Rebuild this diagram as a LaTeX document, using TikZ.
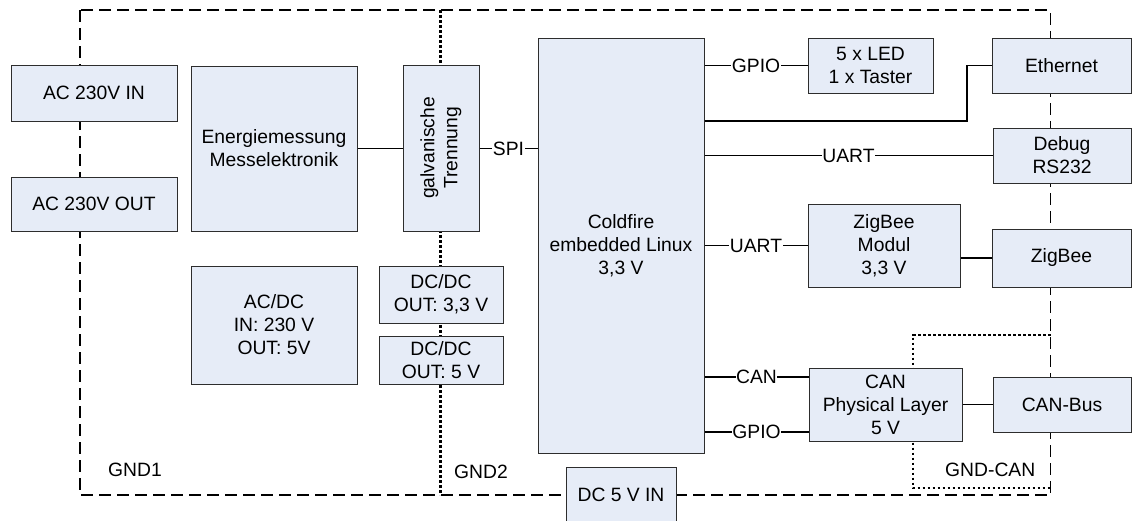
\documentclass[tikz,border=0pt]{standalone}
\usepackage{fontspec}
\setmainfont{Liberation Sans}
\definecolor{boxfill}{RGB}{230,236,247}
\definecolor{boxline}{RGB}{45,45,45}
\begin{document}
\begin{tikzpicture}[x=1pt,y=-1pt,
  font=\fontsize{19.3}{23}\selectfont,
  box/.style={draw=boxline, fill=boxfill, line width=1pt, align=center, inner sep=0pt},
  conn/.style={line width=1.1pt},
  lbl/.style={fill=white, inner sep=0.6pt},
  gndframe/.style={line width=1.8pt, dash pattern=on 12pt off 6pt},
  gnddots/.style={line width=2.6pt, dash pattern=on 2.6pt off 2.4pt},
  gndtext/.style={anchor=west, inner sep=0pt}]
\useasboundingbox[fill=white] (0,0) rectangle (1134,520);
% ground regions
\draw[gndframe] (80,10) rectangle (1050.5,495);
\draw[gnddots] (440.7,10) -- (440.7,495);
\draw[gnddots] (1050.5,335) -| (913,488) -- (1050.5,488);
\node[gndtext] (gnd1) at (108,470) {GND1};
\node[gndtext] (gnd2) at (454,472) {GND2};
\node[gndtext] (gndcan) at (945,470) {GND-CAN};
% blocks
\node[box, minimum width=166pt, minimum height=56pt] (acin) at (94,93) {AC 230V IN};
\node[box, minimum width=166pt, minimum height=54pt] (acout) at (94,204) {AC 230V OUT};
\node[box, minimum width=166pt, minimum height=165pt] (energie) at (274,148.5) {Energiemessung\\Messelektronik};
\node[box, minimum width=76pt, minimum height=166pt] (galv) at (441,148) {};
\node[rotate=90, align=center, inner sep=0pt] (galvtext) at (galv.center) {galvanische\\Trennung};
\node[box, minimum width=166pt, minimum height=118pt] (acdc) at (274,325) {AC/DC\\IN: 230 V\\OUT: 5V};
\node[box, minimum width=124pt, minimum height=57pt] (dcdc33) at (441,294.5) {DC/DC\\OUT: 3,3 V};
\node[box, minimum width=124pt, minimum height=48pt] (dcdc5) at (441,360) {DC/DC\\OUT: 5 V};
\node[box, minimum width=166pt, minimum height=415pt] (coldfire) at (621,245.5) {Coldfire\\embedded Linux\\3,3 V};
\node[box, minimum width=125pt, minimum height=55pt] (led) at (870.5,65.5) {5 x LED\\1 x Taster};
\node[box, minimum width=139pt, minimum height=55pt] (eth) at (1061.5,65.5) {Ethernet};
\node[box, minimum width=138pt, minimum height=55pt] (debug) at (1062,155.5) {Debug\\RS232};
\node[box, minimum width=152pt, minimum height=83pt] (zbmod) at (884,245.5) {ZigBee\\Modul\\3,3 V};
\node[box, minimum width=139pt, minimum height=58pt] (zb) at (1061.5,258) {ZigBee};
\node[box, minimum width=153pt, minimum height=73pt] (canpl) at (885.5,404.5) {CAN\\Physical Layer\\5 V};
\node[box, minimum width=138pt, minimum height=55pt] (canbus) at (1062,404.5) {CAN-Bus};
\node[box, minimum width=110pt, minimum height=56pt] (dcin) at (621,495) {DC 5 V IN};
% connectors
\coordinate (ethbend) at (967,121);
\coordinate (canrow) at (0,377);
\coordinate (gpiorow) at (0,432);
\draw[conn] (energie.east) -- (galv.west |- energie.east);
\draw[conn] (galv.east |- energie.east) -- node[lbl]{SPI} (coldfire.west |- energie.east);
\draw[conn] (coldfire.east |- led.west) -- node[lbl]{GPIO} (led.west);
\draw[conn, line width=1.6pt] (coldfire.east |- ethbend) -- (ethbend) |- (eth.west);
\draw[conn] (coldfire.east |- debug.west) -- node[lbl]{UART} (debug.west);
\draw[conn] (coldfire.east |- zbmod.west) -- node[lbl]{UART} (zbmod.west);
\draw[conn] (zbmod.east |- zb.west) -- (zb.west);
\draw[conn] (coldfire.east |- canrow) -- node[lbl]{CAN} (canpl.west |- canrow);
\draw[conn] (coldfire.east |- gpiorow) -- node[lbl]{GPIO} (canpl.west |- gpiorow);
\draw[conn] (canpl.east) -- (canbus.west);
\end{tikzpicture}
\end{document}
